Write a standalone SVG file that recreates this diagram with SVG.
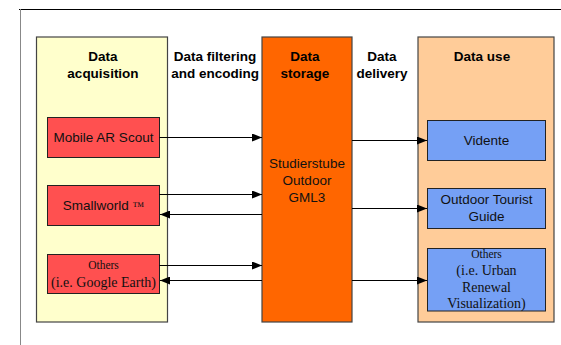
<svg xmlns="http://www.w3.org/2000/svg" width="561" height="345" viewBox="0 0 561 345">
<style>
.col{stroke:#444;stroke-width:1.2}
.box{stroke:#222;stroke-width:1}
.h{font-family:"Liberation Sans",Arial,sans-serif;font-weight:bold;font-size:13.5px;fill:#000;text-anchor:middle}
.t{font-family:"Liberation Sans",Arial,sans-serif;font-size:13.5px;fill:#111;text-anchor:middle}
.s{font-family:"Liberation Serif","Times New Roman",serif;font-size:14px;fill:#111;text-anchor:middle}
.ss{font-family:"Liberation Serif","Times New Roman",serif;font-size:11.5px;fill:#111;text-anchor:middle}
.c{stroke:#000;stroke-width:1;fill:none;marker-end:url(#ah)}
</style>
<defs>
<marker id="ah" viewBox="0 0 10 8" refX="10" refY="4" markerWidth="10" markerHeight="8" markerUnits="userSpaceOnUse" orient="auto">
<path d="M0,0 L10,4 L0,8 Z" fill="#000"/>
</marker>
</defs>
<rect width="561" height="345" fill="#fff"/>
<g id="frame">
<line x1="19" y1="9.5" x2="561" y2="9.5" stroke="#000" stroke-width="1"/>
<line x1="20.5" y1="9" x2="20.5" y2="345" stroke="#888" stroke-width="1"/>
</g>
<g id="col-acquisition">
<rect class="col" x="36.5" y="37" width="131" height="285" fill="#FFFFCC"/>
<text class="h" x="103" y="61">Data</text>
<text class="h" x="103" y="78">acquisition</text>
</g>
<g id="label-filtering">
<text class="h" x="215" y="61">Data filtering</text>
<text class="h" x="215" y="78">and encoding</text>
</g>
<g id="col-storage">
<rect class="col" x="262" y="37" width="90" height="285" fill="#FF6600"/>
<text class="h" x="305" y="61">Data</text>
<text class="h" x="305" y="78">storage</text>
<text class="t" x="307" y="168">Studierstube</text>
<text class="t" x="307" y="185">Outdoor</text>
<text class="t" x="307" y="202">GML3</text>
</g>
<g id="label-delivery">
<text class="h" x="382" y="61">Data</text>
<text class="h" x="382" y="78">delivery</text>
</g>
<g id="col-use">
<rect class="col" x="418" y="37" width="136" height="285" fill="#FFCC99"/>
<text class="h" x="482" y="61">Data use</text>
</g>
<g id="mobile-ar-scout">
<rect class="box" x="47.5" y="117.5" width="112" height="40" fill="#FF5050"/>
<text class="t" x="103.5" y="142">Mobile AR Scout</text>
</g>
<g id="smallworld">
<rect class="box" x="47.5" y="185.5" width="112" height="40" fill="#FF5050"/>
<text class="t" x="103.5" y="210">Smallworld <tspan font-family="'Liberation Serif',serif" font-size="12">™</tspan></text>
</g>
<g id="others-acq">
<rect class="box" x="47.5" y="254.5" width="112" height="39" fill="#FF5050"/>
<text class="ss" x="103.5" y="269">Others</text>
<text class="s" x="103.5" y="286.5">(i.e. Google Earth)</text>
</g>
<g id="vidente">
<rect class="box" x="427.5" y="120.5" width="118" height="40" fill="#75A0F5"/>
<text class="t" x="486.5" y="145">Vidente</text>
</g>
<g id="outdoor-tourist-guide">
<rect class="box" x="427.5" y="188.5" width="118" height="40" fill="#75A0F5"/>
<text class="t" x="486.5" y="204">Outdoor Tourist</text>
<text class="t" x="486.5" y="221">Guide</text>
</g>
<g id="others-use">
<rect class="box" x="427.5" y="248.5" width="118" height="62.5" fill="#75A0F5"/>
<text class="ss" x="486.5" y="258">Others</text>
<text class="s" x="486.5" y="275">(i.e. Urban</text>
<text class="s" x="486.5" y="291.5">Renewal</text>
<text class="s" x="486.5" y="308">Visualization)</text>
</g>
<g id="connectors">
<line class="c" x1="159.5" y1="137.5" x2="262" y2="137.5"/>
<line class="c" x1="159.5" y1="194.5" x2="262" y2="194.5"/>
<line class="c" x1="262" y1="214.5" x2="160" y2="214.5"/>
<line class="c" x1="159.5" y1="265.5" x2="262" y2="265.5"/>
<line class="c" x1="262" y1="280.5" x2="160" y2="280.5"/>
<line class="c" x1="352" y1="140.5" x2="427" y2="140.5"/>
<line class="c" x1="352" y1="208.5" x2="427" y2="208.5"/>
<line class="c" x1="352" y1="280.5" x2="427" y2="280.5"/>
</g>
</svg>
